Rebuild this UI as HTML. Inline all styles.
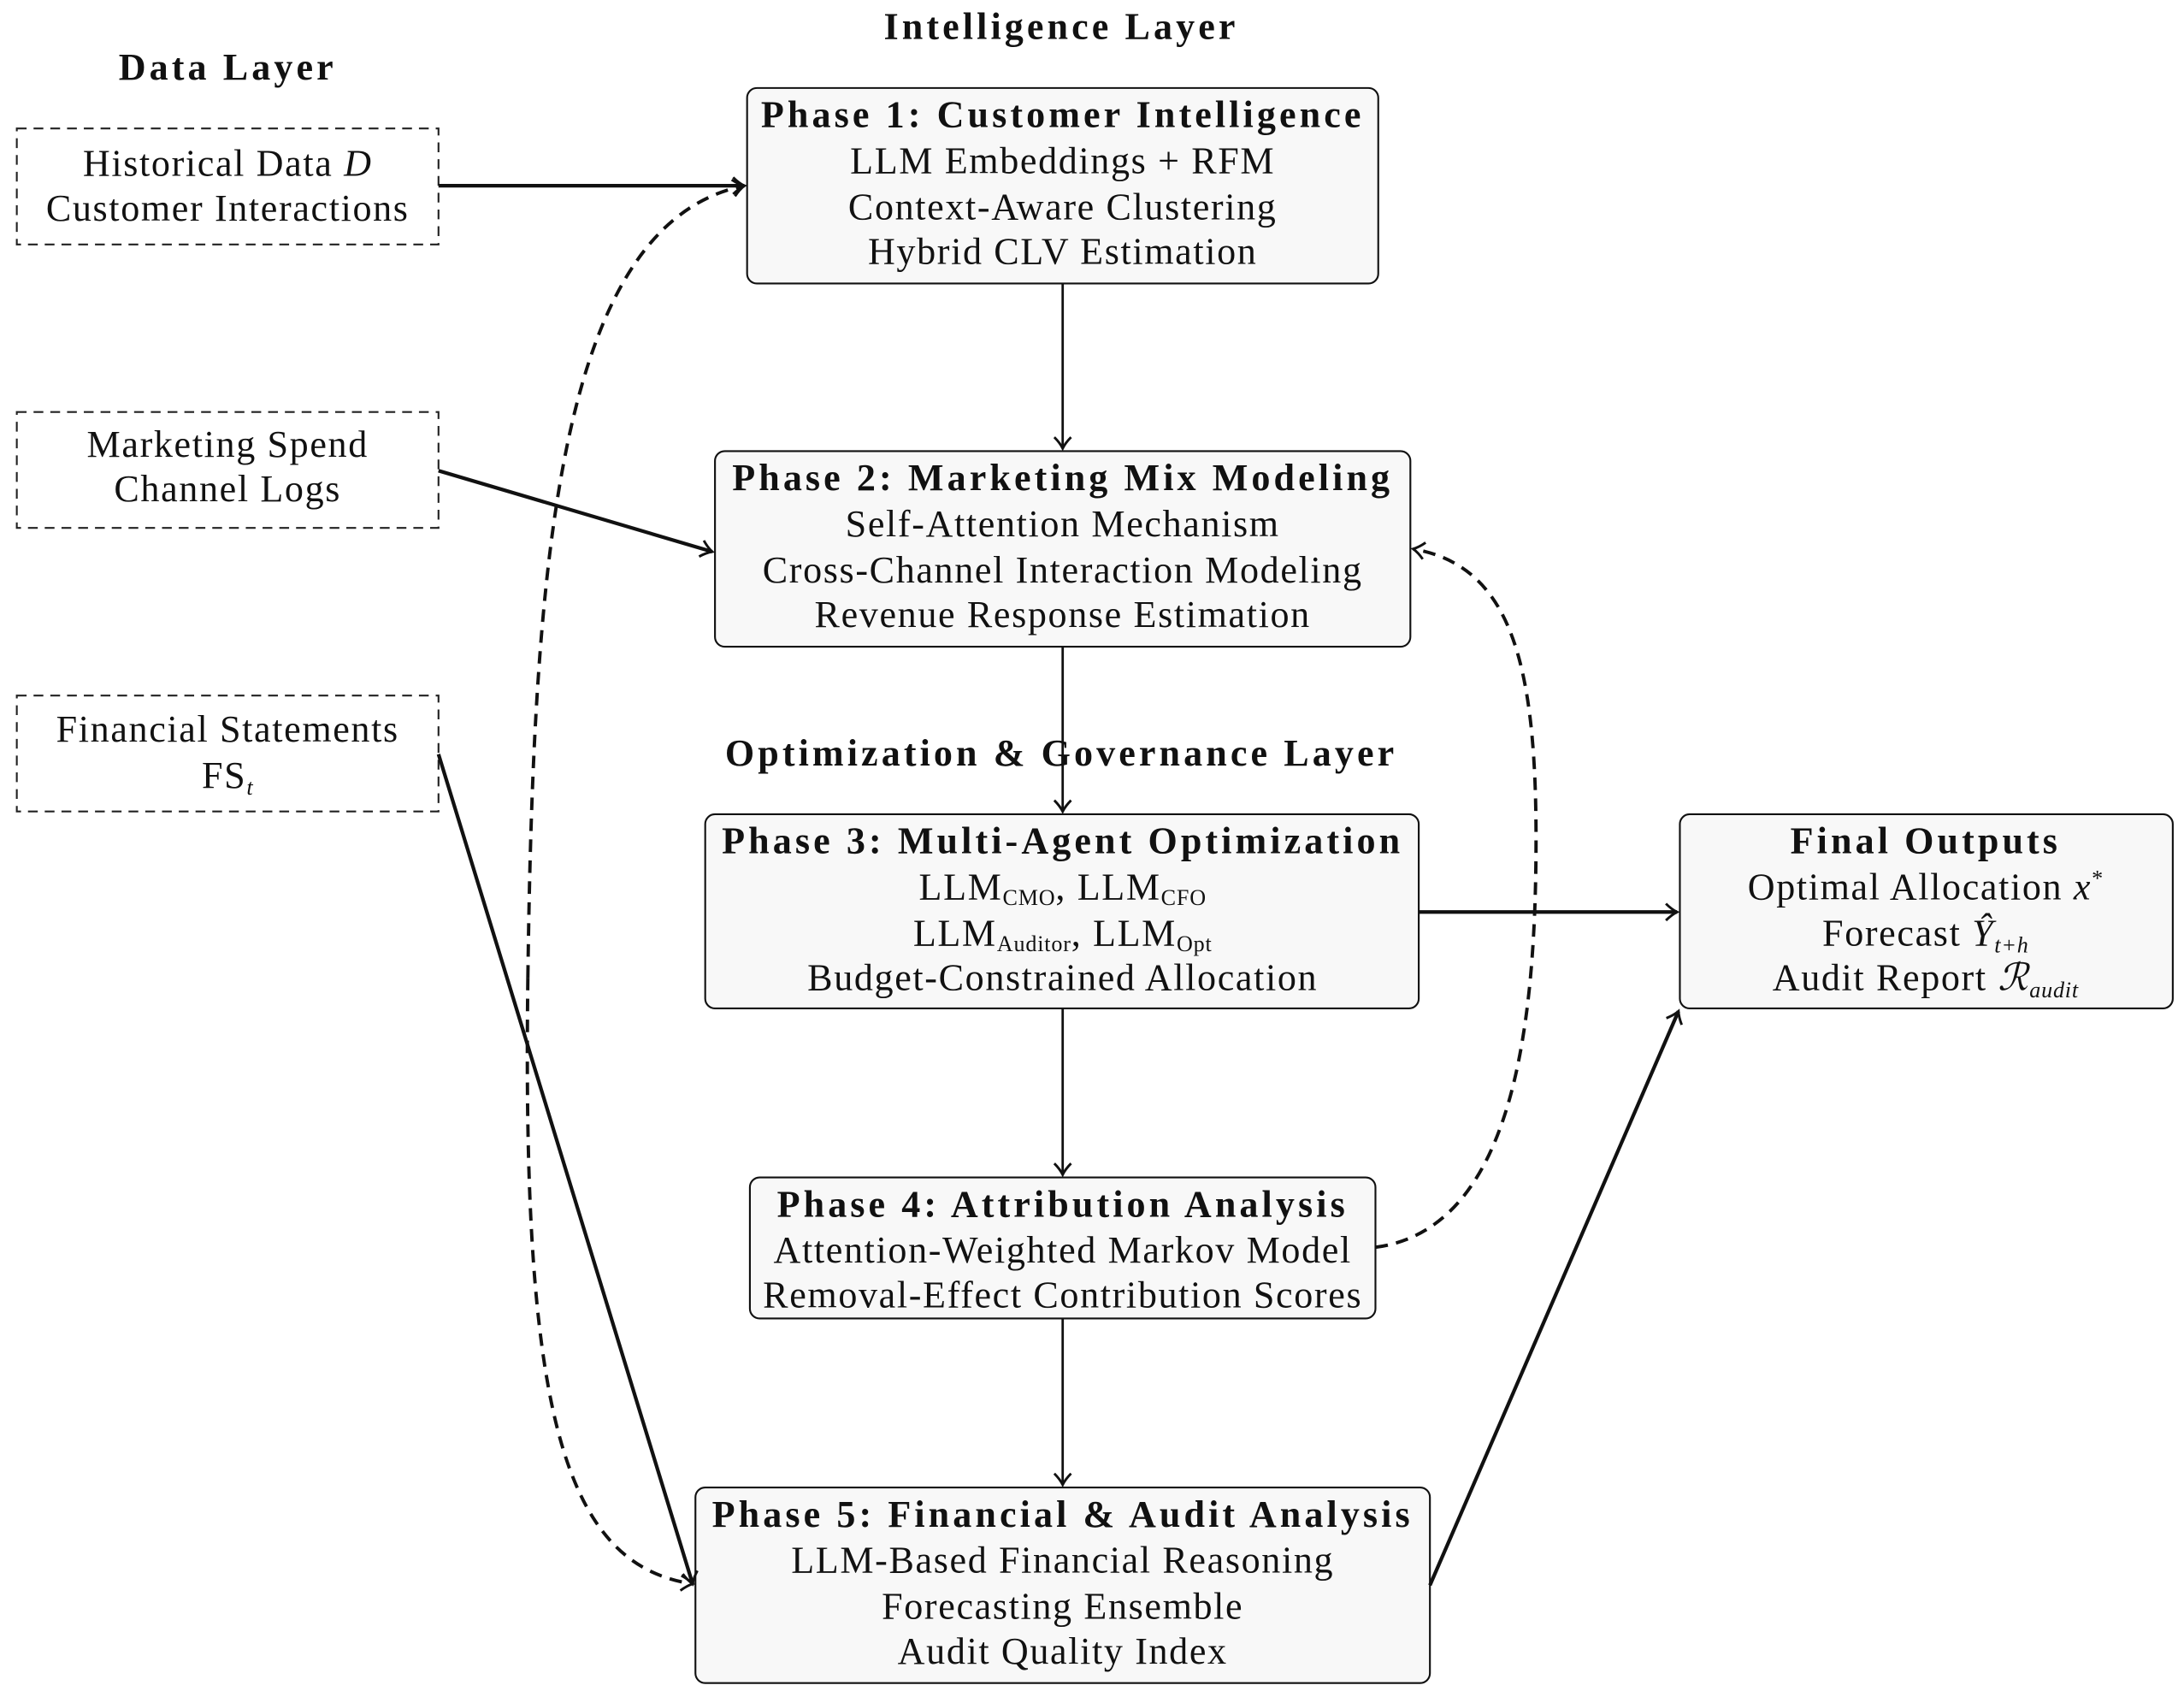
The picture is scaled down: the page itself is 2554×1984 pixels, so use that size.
<!DOCTYPE html>
<html><head><meta charset="utf-8"><style>
html,body{margin:0;padding:0;background:#fff}
svg{display:block}
text{font-family:"Liberation Serif","DejaVu Serif",serif;font-size:27px;letter-spacing:1px;fill:#111;text-anchor:middle}
.b{font-weight:bold;letter-spacing:2.5px}
.s{font-size:16px;letter-spacing:0.5px}
</style></head><body>
<svg width="2554" height="1984" viewBox="0 0 1564 1215" xmlns="http://www.w3.org/2000/svg">
<defs>
<marker id="a" markerWidth="14" markerHeight="14" refX="10" refY="7" orient="auto" markerUnits="userSpaceOnUse">
<path d="M2,1 Q6,5 10,7 Q6,9 2,13" fill="none" stroke="#111" stroke-width="1.8"/>
</marker>
</defs>
<text x="163" y="57" class="b">Data Layer</text>
<text x="760" y="28" class="b">Intelligence Layer</text>
<text x="760" y="548" class="b">Optimization &amp; Governance Layer</text>

<g fill="none" stroke="#222" stroke-width="1.3" stroke-dasharray="7,5">
<rect x="12" y="92" width="302" height="83"/>
<rect x="12" y="295" width="302" height="83"/>
<rect x="12" y="498" width="302" height="83"/>
</g>
<text x="163" y="126">Historical Data <tspan font-style="italic">D</tspan></text>
<text x="163" y="158">Customer Interactions</text>
<text x="163" y="327">Marketing Spend</text>
<text x="163" y="359">Channel Logs</text>
<text x="163" y="531">Financial Statements</text>
<text x="163" y="564">FS<tspan class="s" font-style="italic" dy="5">t</tspan></text>

<g fill="#f8f8f8" stroke="#111" stroke-width="1.3">
<rect x="535" y="63" width="452" height="140" rx="7"/>
<rect x="512" y="323" width="498" height="140" rx="7"/>
<rect x="505" y="583" width="511" height="139" rx="7"/>
<rect x="537" y="843" width="448" height="101" rx="7"/>
<rect x="498" y="1065" width="526" height="140" rx="7"/>
<rect x="1203" y="583" width="353" height="139" rx="7"/>
</g>
<text x="761" y="91" class="b">Phase 1: Customer Intelligence</text>
<text x="761" y="124">LLM Embeddings + RFM</text>
<text x="761" y="157">Context-Aware Clustering</text>
<text x="761" y="189">Hybrid CLV Estimation</text>

<text x="761" y="351" class="b">Phase 2: Marketing Mix Modeling</text>
<text x="761" y="384">Self-Attention Mechanism</text>
<text x="761" y="417">Cross-Channel Interaction Modeling</text>
<text x="761" y="449">Revenue Response Estimation</text>

<text x="761" y="611" class="b">Phase 3: Multi-Agent Optimization</text>
<text x="761" y="644">LLM<tspan class="s" dy="4">CMO</tspan><tspan dy="-4">, LLM</tspan><tspan class="s" dy="4">CFO</tspan></text>
<text x="761" y="677">LLM<tspan class="s" dy="4">Auditor</tspan><tspan dy="-4">, LLM</tspan><tspan class="s" dy="4">Opt</tspan></text>
<text x="761" y="709">Budget-Constrained Allocation</text>

<text x="761" y="871" class="b">Phase 4: Attribution Analysis</text>
<text x="761" y="904">Attention-Weighted Markov Model</text>
<text x="761" y="936">Removal-Effect Contribution Scores</text>

<text x="761" y="1093" class="b">Phase 5: Financial &amp; Audit Analysis</text>
<text x="761" y="1126">LLM-Based Financial Reasoning</text>
<text x="761" y="1159">Forecasting Ensemble</text>
<text x="761" y="1191">Audit Quality Index</text>

<text x="1379" y="611" class="b">Final Outputs</text>
<text x="1379" y="644">Optimal Allocation <tspan font-style="italic">x</tspan><tspan class="s" dy="-10">*</tspan></text>
<text x="1379" y="677">Forecast <tspan font-style="italic">Ŷ</tspan><tspan class="s" font-style="italic" dy="5">t+h</tspan></text>
<text x="1379" y="709">Audit Report <tspan font-style="italic">ℛ</tspan><tspan class="s" font-style="italic" dy="5">audit</tspan></text>

<g fill="none" stroke="#111" marker-end="url(#a)">
<path d="M314,133 L533,133" stroke-width="2.6"/>
<path d="M314,337 L510,395" stroke-width="2.6"/>
<path d="M314,540 L496,1134" stroke-width="2.6"/>
<path d="M1016,653 L1201,653" stroke-width="2.6"/>
<path d="M1024,1135 L1202,724" stroke-width="2.6"/>
<path d="M761,203 L761,321" stroke-width="1.7"/>
<path d="M761,463 L761,581" stroke-width="1.7"/>
<path d="M761,722 L761,841" stroke-width="1.7"/>
<path d="M761,944 L761,1063" stroke-width="1.7"/>
</g>
<g fill="none" stroke="#111" stroke-width="2.4" stroke-dasharray="9,6">
<path d="M378,700 C 382,400 400,160 533,133" marker-end="url(#a)"/>
<path d="M378,700 C 374,1000 400,1120 496,1134" marker-end="url(#a)"/>
<path d="M985,893 C 1085,880 1100,730 1100,600 C 1100,470 1080,405 1012,393" marker-end="url(#a)"/>
</g>
</svg>
</body></html>
